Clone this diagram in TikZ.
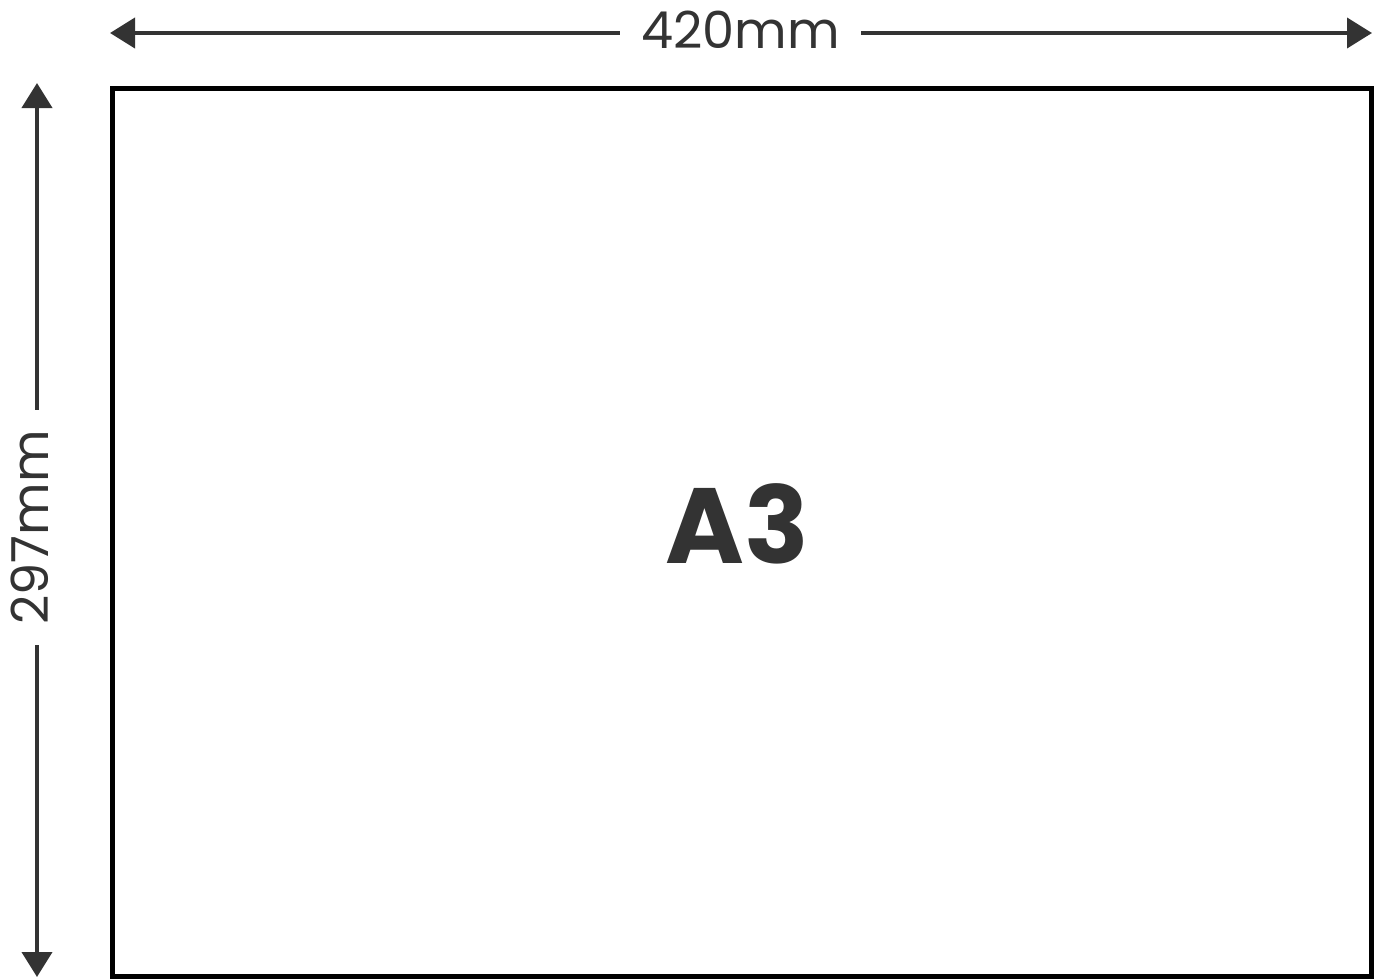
\documentclass[tikz,border=0pt]{standalone}
\usepackage{fontspec}
\setmainfont{Poppins}
\usetikzlibrary{arrows.meta}
\definecolor{ink}{HTML}{333333}
\tikzset{
  dimline/.style={draw=ink, line width=4pt, -{Triangle[length=25pt,width=30pt]}},
  dimlabel/.style={text=ink, font=\fontsize{51}{51}\selectfont, inner sep=0pt},
  paper/.style={draw=black, line width=5pt, minimum width=1259pt, minimum height=888pt, inner sep=0pt},
}
\begin{document}
\begin{tikzpicture}[x=1pt,y=-1pt]
\useasboundingbox (0,0) rectangle (1374,980);
\node[paper] (sheet) at (742,532.5) {};
\node[text=ink, font=\bfseries\fontsize{107}{107}\selectfont, inner sep=0pt] (name) at (737,524) {A3};
% top dimension
\coordinate (tl) at (110,33);
\coordinate (tr) at (1372,33);
\node[dimlabel, minimum width=241pt] (wlab) at (740.5,30) {420mm};
\draw[dimline] (wlab.west |- tl) -- (tl);
\draw[dimline] (wlab.east |- tr) -- (tr);
% left dimension
\coordinate (vt) at (37,83);
\coordinate (vb) at (37,977);
\node[dimlabel, rotate=90, minimum width=235pt] (hlab) at (30,527.5) {297mm};
\draw[dimline] (vt |- hlab.east) -- (vt);
\draw[dimline] (vb |- hlab.west) -- (vb);
\end{tikzpicture}
\end{document}
